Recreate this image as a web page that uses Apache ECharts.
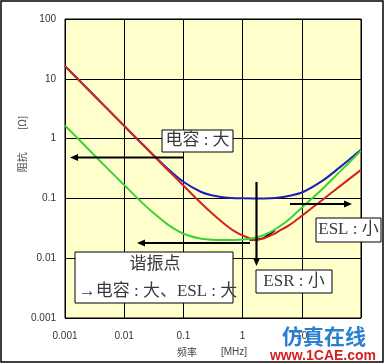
<!DOCTYPE html>
<html><head><meta charset="utf-8">
<script src="https://cdn.jsdelivr.net/npm/echarts@6/dist/echarts.min.js"></script>
<style>html,body{margin:0;padding:0;background:#fff}#c{width:386px;height:364px}</style>
</head><body><div id="c"></div>
<script>
// frequency [MHz], impedance [Ω]
const redFreq   = [0.001,0.002,0.005,0.01,0.02,0.05,0.1,0.2,0.3,0.5,0.7,1,1.5,1.73,2.3,3.2,4.5,6.25,10.5,22.5,43.7,100];
const redZ      = [16.3,8.15,3.26,1.63,0.815,0.326,0.164,0.083,0.057,0.037,0.029,0.024,0.0206,0.0203,0.0216,0.0247,0.030,0.036,0.053,0.095,0.159,0.30];
const greenFreq = [0.001,0.002,0.005,0.01,0.02,0.03,0.05,0.07,0.1,0.2,0.5,1,1.7,2.9,5.5,10,20,44,100];
const greenZ    = [1.66,0.83,0.33,0.167,0.085,0.059,0.039,0.031,0.0256,0.0212,0.0201,0.0205,0.0222,0.027,0.041,0.07,0.13,0.28,0.63];
const blueFreq  = [0.001,0.002,0.005,0.01,0.02,0.05,0.1,0.2,0.3,0.5,1,1.6,3,6.25,10.5,22.8,43.7,100];
const blueZ     = [16.3,8.15,3.26,1.63,0.82,0.34,0.19,0.128,0.113,0.104,0.1005,0.1,0.101,0.111,0.128,0.2,0.33,0.65];
const blackFreq = [1.3,1.7,2.2,2.8,3.5];
const blackZ    = [0.0203,0.0205,0.0215,0.025,0.0293];
const xTicks = [0.001,0.01,0.1,1,10,100];
const xTickLabels = ['0.001','0.01','0.1','1','10',''];
const yTicks = [0.001,0.01,0.1,1,10,100];
const yTickLabels = ['0.001','0.01','0.1','1','10','100'];

const pair = (xs, ys) => xs.map((x, i) => [x, ys[i]]);
const lbl = (ticks, labels) => v => {
  for (let i = 0; i < ticks.length; i++) if (Math.abs(Math.log10(v) - Math.log10(ticks[i])) < 1e-6) return labels[i];
  return '';
};
const chart = echarts.init(document.getElementById('c'));
const txt = '#333';
const boxTxt = '#3a3a3a';
const serif = '"Liberation Serif","Noto Sans CJK SC",serif';
function box(x, y, w, h) {
  return {type:'rect', shape:{x:x, y:y, width:w, height:h}, style:{fill:'#fff', stroke:'#000', lineWidth:1}, z:50};
}
function t(x, y, s, opt) {
  return Object.assign({type:'text', x:x, y:y, style:Object.assign({text:s, fill:boxTxt, font:'17px ' + serif, textAlign:'center', textVerticalAlign:'middle'}, opt || {}), z:51});
}
function arrow(x1, y1, x2, y2) {
  const a = Math.atan2(y2 - y1, x2 - x1), L = 8, W = 3.5;
  const bx = x2 - L * Math.cos(a), by = y2 - L * Math.sin(a);
  const px = -Math.sin(a) * W, py = Math.cos(a) * W;
  return [
    {type:'line', shape:{x1:x1, y1:y1, x2:bx, y2:by}, style:{stroke:'#000', lineWidth:2.2}, z:60},
    {type:'polygon', shape:{points:[[x2, y2], [bx + px, by + py], [bx - px, by - py]]}, style:{fill:'#000'}, z:60}
  ];
}
const series = [
  {name:'black', data:pair(blackFreq, blackZ), color:'#000000', z:2},
  {name:'blue', data:pair(blueFreq, blueZ), color:'#1F1FB8', z:3},
  {name:'red', data:pair(redFreq, redZ), color:'#D42222', z:4},
  {name:'green', data:pair(greenFreq, greenZ), color:'#3CD03C', z:5}
].map(s => ({type:'line', name:s.name, data:s.data, smooth:0.35, showSymbol:false, z:s.z,
  lineStyle:{color:s.color, width:2}, itemStyle:{color:s.color}, silent:true}));

chart.setOption({
  animation:false,
  backgroundColor:'#fff',
  grid:{left:65, top:19, width:296, height:299, show:true, backgroundColor:'#FFFFCC', borderColor:'#000', borderWidth:1},
  xAxis:{type:'log', logBase:10, min:0.001, max:100,
    axisLine:{show:false}, axisTick:{show:false},
    splitLine:{show:true, lineStyle:{color:'#000', width:1}},
    axisLabel:{formatter:lbl(xTicks, xTickLabels), color:txt, fontSize:10, fontFamily:'Liberation Sans', margin:13, showMaxLabel:true, showMinLabel:true}},
  yAxis:{type:'log', logBase:10, min:0.001, max:100,
    axisLine:{show:false}, axisTick:{show:false},
    splitLine:{show:true, lineStyle:{color:'#000', width:1}},
    axisLabel:{formatter:lbl(yTicks, yTickLabels), color:txt, fontSize:10, fontFamily:'Liberation Sans', margin:9}},
  series:series,
  graphic:[
    {type:'rect', shape:{x:1, y:1, width:382, height:361}, style:{fill:null, stroke:'#000', lineWidth:1.5}, z:100},
    {type:'text', x:22, y:144, rotation:Math.PI/2, style:{text:'阻抗　　 [Ω]', fill:'#444', font:'10px "Noto Sans CJK SC"', textAlign:'center', textVerticalAlign:'middle'}, z:10},
    {type:'text', x:187, y:352, style:{text:'频率', fill:'#444', font:'10px "Noto Sans CJK SC"', textAlign:'center', textVerticalAlign:'middle'}, z:10},
    {type:'text', x:234, y:352, style:{text:'[MHz]', fill:'#444', font:'10px "Liberation Sans"', textAlign:'center', textVerticalAlign:'middle'}, z:10},
    box(162, 130, 71, 22), t(197.5, 141, '电容 : 大'),
    ...arrow(183, 157.5, 70, 157.5),
    ...arrow(290, 204, 352, 204),
    box(316, 218, 65, 24), t(348.5, 230, 'ESL : 小'),
    ...arrow(256.5, 182, 256.5, 266),
    ...arrow(250, 243, 137, 243),
    box(75, 252, 158, 51), t(155, 265, '谐振点'), t(158, 291.5, '→电容 : 大、ESL : 大'),
    box(256, 270, 76, 23), t(294, 281.5, 'ESR : 小'),
    {type:'text', x:324, y:336, style:{text:'仿真在线', fill:'#2A7FD0', font:'bold 21px "Noto Sans CJK SC"', textAlign:'center', textVerticalAlign:'middle'}, z:90},
    {type:'text', x:323, y:356, style:{text:'www.1CAE.com', fill:'#D42020', font:'bold 14px "Liberation Sans"', textAlign:'center', textVerticalAlign:'middle'}, z:90}
  ]
});
</script></body></html>
